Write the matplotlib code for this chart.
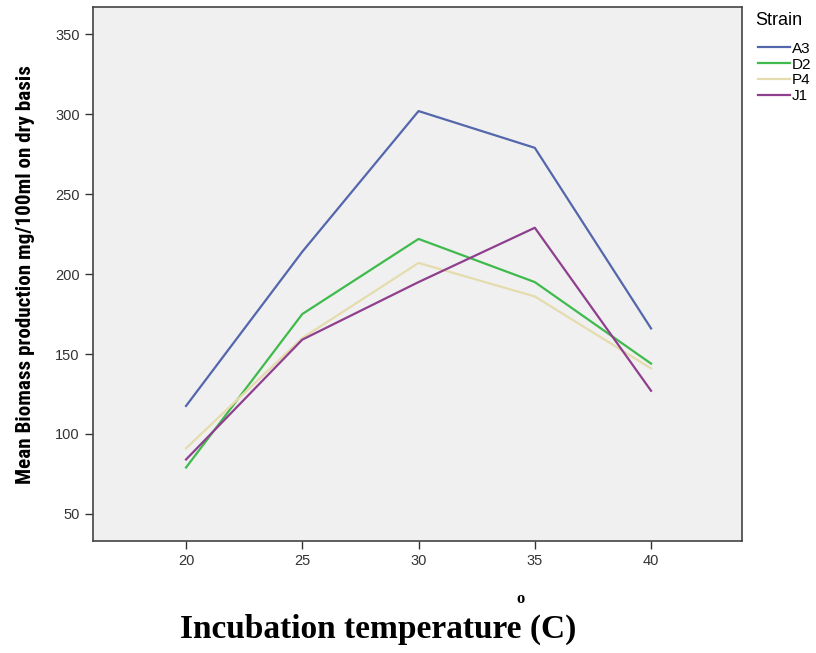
import matplotlib
matplotlib.use("Agg")
import matplotlib.pyplot as plt

temps = [20, 25, 30, 35, 40]
strains = ["A3", "D2", "P4", "J1"]
a3 = [117.5, 214, 302, 279, 166]
d2 = [79, 175, 222, 195, 144]
p4 = [91, 160, 207, 186, 141]
j1 = [84, 159, 195, 229, 127]
colors = ["#5466ac", "#3fba4c", "#e5dcae", "#8e3f8e"]

sans = ["Liberation Sans", "DejaVu Sans"]
serif = ["Liberation Serif", "DejaVu Serif"]

fig = plt.figure(figsize=(8.16, 6.53), dpi=100)
ax = fig.add_axes([0.114, 0.1715, 0.795, 0.8175])
ax.set_facecolor("#f0f0f0")

for name, vals, c in zip(strains, [a3, d2, p4, j1], colors):
    ax.plot(temps, vals, color=c, linewidth=1.6, label=name)

ax.set_xlim(16, 43.9)
ax.set_ylim(33, 367)
ax.set_xticks(temps)
ax.set_yticks([50, 100, 150, 200, 250, 300, 350])
ax.tick_params(direction="out", length=6, width=1, colors="#333333",
               labelsize=10.5, labelcolor="#333333")
for lab in ax.get_xticklabels() + ax.get_yticklabels():
    lab.set_family(sans)
for s in ax.spines.values():
    s.set_color("#444444")
    s.set_linewidth(1.2)

ax.set_ylabel("Mean Biomass production mg/100ml on dry basis",
              family=["Roboto Condensed", "Liberation Sans", "DejaVu Sans"],
              fontweight="bold", fontsize=15.2)
ax.yaxis.set_label_coords(-0.089, 0.5)

fig.text(0.464, 0.013, "Incubation temperature (C)", ha="center", va="bottom",
         family=serif, fontweight="bold", fontsize=24)
fig.text(0.638, 0.071, "o", ha="center", va="bottom",
         family=serif, fontweight="bold", fontsize=12)

# legend title drawn separately so it can sit a bit higher
fig.text(0.926, 0.969, "Strain", ha="left", va="center", family=sans, fontsize=13)
leg = fig.legend(loc="upper left", bbox_to_anchor=(0.918, 0.95),
                 frameon=False, handlelength=2.05, handletextpad=0.15,
                 labelspacing=0.12, borderpad=0.1,
                 prop={"family": sans, "size": 11})

fig.savefig("out.png", dpi=100)
